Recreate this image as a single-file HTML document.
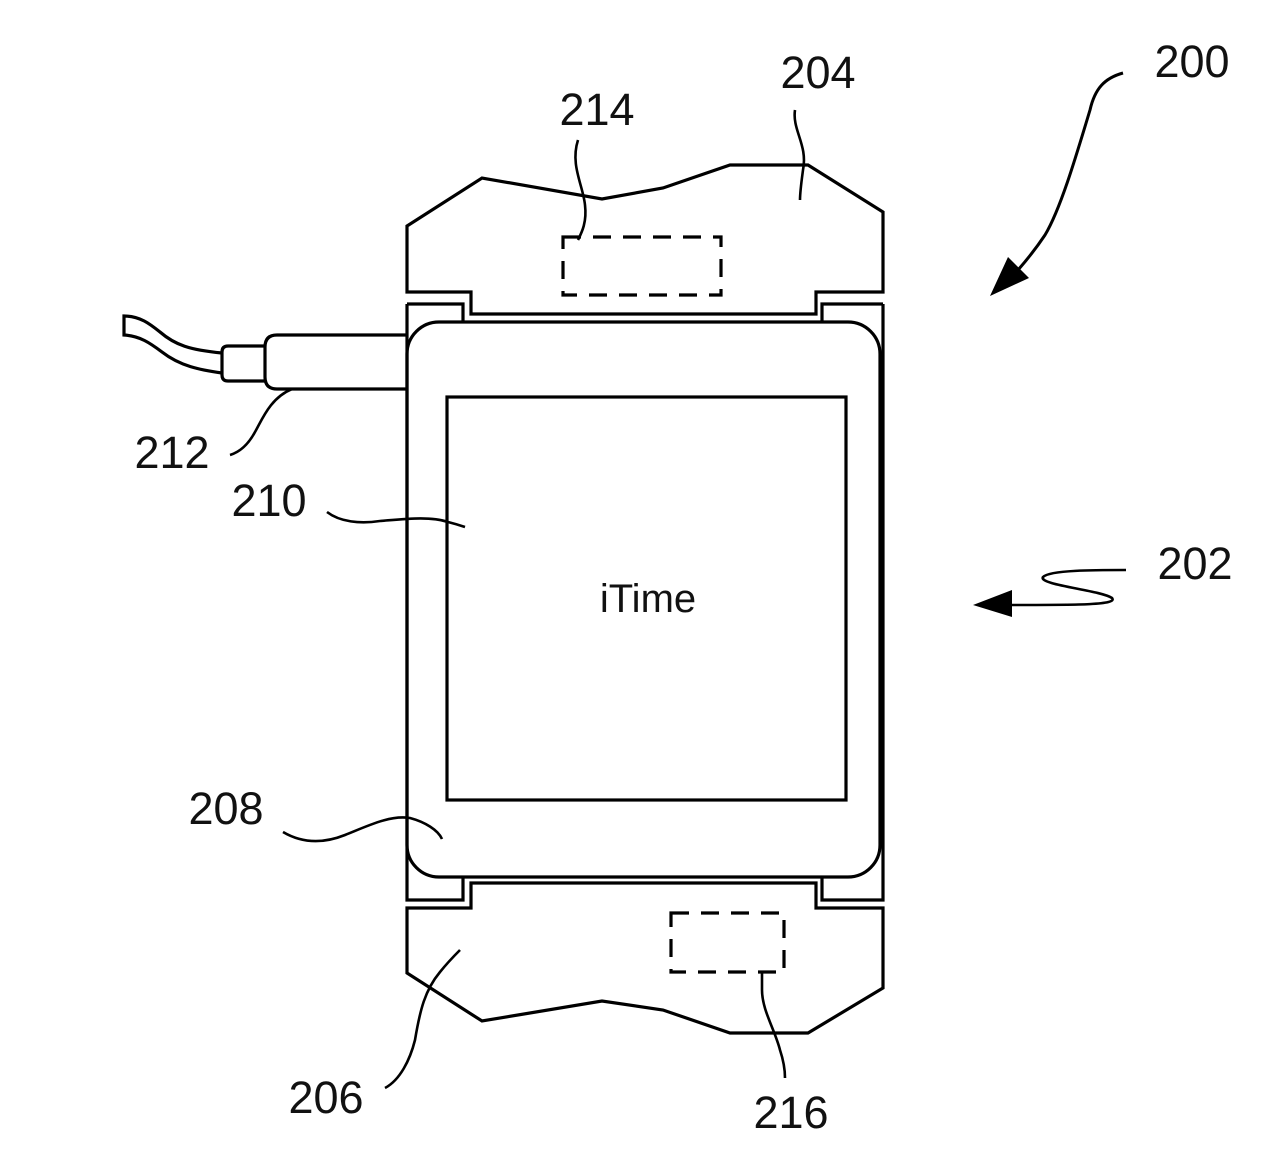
<!DOCTYPE html>
<html><head><meta charset="utf-8"><style>
html,body{margin:0;padding:0;background:#fff;width:1280px;height:1174px;overflow:hidden}
svg{display:block}
text{font-family:"Liberation Sans",sans-serif;font-size:45px;fill:#111}
</style></head><body>
<svg width="1280" height="1174" viewBox="0 0 1280 1174" xmlns="http://www.w3.org/2000/svg">
<g fill="none" stroke="#000" stroke-width="3.2" stroke-linejoin="miter">
<path d="M407,292 L407,226 L482,178 L602,199 L663,188 L730,165 L808,165 L883,212 L883,292 L816,292 L816,314 L471,314 L471,292 Z"/>
<rect x="563" y="237" width="158" height="58" stroke-dasharray="18,12"/>
<path d="M407,304 L463,304 L463,322"/>
<path d="M883,304 L822,304 L822,322"/>
<path d="M407,304 L407,900 L463,900 L463,878"/>
<path d="M883,304 L883,900 L822,900 L822,878"/>
<rect x="407" y="322" width="473" height="555" rx="32" ry="32"/>
<rect x="447" y="397" width="399" height="403"/>
<path d="M407,908 L471,908 L471,883 L816,883 L816,908 L883,908 L883,988 L808,1033 L730,1033 L663,1010 L602,1001 L482,1021 L407,973 Z"/>
<rect x="671" y="913" width="113" height="59" stroke-dasharray="18,12"/>
<path d="M407,335 L277,335 Q265,335 265,347 L265,377 Q265,389 277,389 L407,389"/>
<path d="M265,346 L228,346 Q222,346 222,352 L222,375 Q222,381 228,381 L265,381"/>
<path d="M222,353 C190,350 175,345 160,332 C150,324 140,316 124,316 L124,335 C140,336 150,343 162,352 C180,366 200,370 222,373"/>
<path d="M292,389 C270,398 262,420 255,432 C248,445 240,452 230,455" stroke-width="2.6"/>
<path d="M578,140 C570,165 583,185 585,205 C587,222 582,232 578,240" stroke-width="2.6"/>
<path d="M795,110 C792,130 808,145 803,170 C801,185 800,192 800,200" stroke-width="2.6"/>
<path d="M327,512 C340,522 360,524 380,521 C405,519 430,516 448,522 C456,524 462,526 465,527" stroke-width="2.6"/>
<path d="M283,832 C300,842 320,845 345,835 C370,825 390,815 410,818 C425,822 438,830 442,839" stroke-width="2.6"/>
<path d="M385,1088 C400,1080 410,1060 415,1040 C420,1010 425,990 440,972 C448,962 455,955 460,950" stroke-width="2.6"/>
<path d="M762,972 L762,990 C762,1010 775,1030 780,1050 C784,1062 785,1070 785,1078" stroke-width="2.6"/>
<path d="M1123,73 C1105,78 1095,88 1090,110 C1075,160 1060,210 1045,235 C1035,250 1025,262 1018,270" stroke-width="3"/>
<path d="M1126,570 C1095,570 1050,570 1043,577 C1038,585 1100,590 1112,598 C1118,605 1080,605 1010,605" stroke-width="2.6"/>
</g>
<polygon points="990,296 1008,257 1029,278" fill="#000"/>
<polygon points="973,605 1012,590 1012,617" fill="#000"/>
<g>
<text x="818" y="88" text-anchor="middle">204</text>
<text x="597" y="125" text-anchor="middle">214</text>
<text x="1192" y="77" text-anchor="middle">200</text>
<text x="172" y="468" text-anchor="middle">212</text>
<text x="269" y="516" text-anchor="middle">210</text>
<text x="1195" y="579" text-anchor="middle">202</text>
<text x="226" y="824" text-anchor="middle">208</text>
<text x="326" y="1113" text-anchor="middle">206</text>
<text x="791" y="1128" text-anchor="middle">216</text>
<text x="648" y="612" text-anchor="middle" style="font-size:40px">iTime</text>
</g>
</svg>
</body></html>
